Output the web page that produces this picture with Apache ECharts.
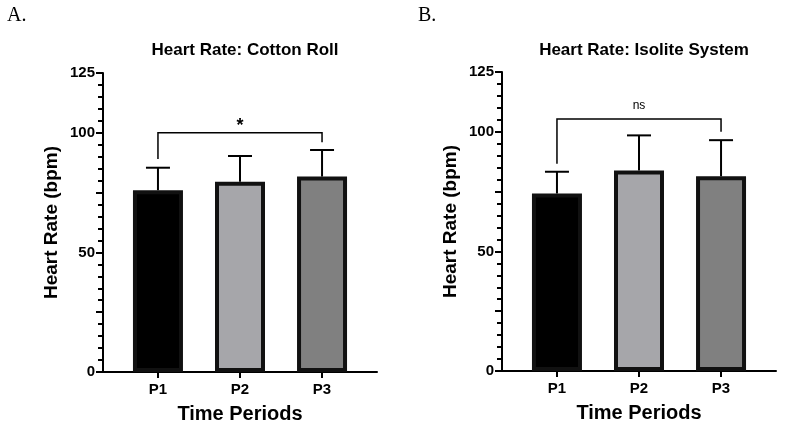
<!DOCTYPE html>
<html>
<head>
<meta charset="utf-8">
<script src="https://cdn.jsdelivr.net/npm/echarts@6/dist/echarts.min.js"></script>
<style>
  html, body { margin: 0; padding: 0; background: #fff; }
  #chart { width: 785px; height: 431px; }
</style>
</head>
<body>
<div id="chart"></div>
<script>
// 数据
const categories = ['P1', 'P2', 'P3']
const barColors = ['#000000', '#a6a6aa', '#808080']
const yTickLabels = [0, 50, 100, 125]

const titles = ['Heart Rate: Cotton Roll', 'Heart Rate: Isolite System']
const panelLetters = ['A.', 'B.']

const cottonMean = [76, 79.5, 81.7]
const cottonSD = [9.4, 10.8, 11.1]
const isoliteMean = [74.2, 83.8, 81.4]
const isoliteSD = [9.1, 14.7, 15.1]

// [from, to, bracket height, left leg end, right leg end]
const cottonBracket = [0, 2, 100, 89, 96]
const isoliteBracket = [0, 2, 105.3, 86.6, 100]
const bracketLabels = ['*', 'ns']

const font = 'Liberation Sans, Arial, sans-serif'

const chart = echarts.init(document.getElementById('chart'))

const makeXAxis = (idx) => ({
  type: 'value',
  gridIndex: idx,
  min: -0.67,
  max: 2.67,
  name: 'Time Periods',
  nameLocation: 'middle',
  nameGap: 32,
  nameTextStyle: { fontFamily: font, fontWeight: 'bold', fontSize: 20, color: '#000' },
  axisLine: { show: true, onZero: false, lineStyle: { color: '#000', width: 2 } },
  axisTick: { show: true, customValues: [0, 1, 2], length: 6, lineStyle: { color: '#000', width: 2 } },
  axisLabel: {
    customValues: [0, 1, 2],
    formatter: (v) => categories[Math.round(v)],
    margin: 10,
    fontFamily: font,
    fontWeight: 'bold',
    fontSize: 15,
    color: '#000'
  },
  splitLine: { show: false }
})

const makeYAxis = (idx) => ({
  type: 'value',
  gridIndex: idx,
  min: 0,
  max: 125,
  interval: 25,
  name: 'Heart Rate (bpm)',
  nameLocation: 'middle',
  nameGap: 42,
  nameTextStyle: { fontFamily: font, fontWeight: 'bold', fontSize: 19, color: '#000' },
  axisLine: { show: true, onZero: false, lineStyle: { color: '#000', width: 2 } },
  axisTick: { show: true, length: 7, lineStyle: { color: '#000', width: 2 } },
  minorTick: { show: true, splitNumber: 5, length: 5, lineStyle: { color: '#000', width: 2 } },
  axisLabel: {
    formatter: (v) => (yTickLabels.indexOf(v) >= 0 ? String(v) : ''),
    margin: 8,
    fontFamily: font,
    fontWeight: 'bold',
    fontSize: 15,
    color: '#000'
  },
  splitLine: { show: false }
})

const barSeries = (idx, means) => ({
  type: 'bar',
  xAxisIndex: idx,
  yAxisIndex: idx,
  barWidth: 50,
  silent: true,
  itemStyle: { borderColor: '#111', borderWidth: 4 },
  data: means.map((m, i) => ({ value: [i, m], itemStyle: { color: barColors[i] } })),
  z: 2
})

const errorSeries = (idx, means, sds) => ({
  type: 'custom',
  xAxisIndex: idx,
  yAxisIndex: idx,
  silent: true,
  data: means.map((m, i) => [i, m, m + sds[i]]),
  renderItem: (params, api) => {
    const x = api.value(0)
    const p0 = api.coord([x, api.value(1)])
    const p1 = api.coord([x, api.value(2)])
    const half = 12
    const style = { stroke: '#000', lineWidth: 2 }
    return {
      type: 'group',
      children: [
        { type: 'line', shape: { x1: p0[0], y1: p0[1], x2: p1[0], y2: p1[1] }, style },
        { type: 'line', shape: { x1: p1[0] - half, y1: p1[1], x2: p1[0] + half, y2: p1[1] }, style }
      ]
    }
  },
  z: 3
})

const bracketSeries = (idx, bracket) => ({
  type: 'custom',
  xAxisIndex: idx,
  yAxisIndex: idx,
  silent: true,
  data: [bracket],
  renderItem: (params, api) => {
    const from = api.value(0)
    const to = api.value(1)
    const y = api.value(2)
    const a = api.coord([from, api.value(3)])
    const b = api.coord([from, y])
    const c = api.coord([to, y])
    const d = api.coord([to, api.value(4)])
    const label = bracketLabels[idx]
    const isStar = label === '*'
    return {
      type: 'group',
      children: [
        {
          type: 'polyline',
          shape: { points: [a, b, c, d] },
          style: { stroke: '#000', lineWidth: 1.5, fill: null }
        },
        {
          type: 'text',
          x: (b[0] + c[0]) / 2,
          y: isStar ? b[1] + 2 : b[1] - 13,
          style: {
            text: label,
            align: 'center',
            verticalAlign: isStar ? 'bottom' : 'middle',
            fontFamily: font,
            fontWeight: isStar ? 'bold' : 'normal',
            fontSize: isStar ? 18 : 12,
            fill: '#000'
          }
        }
      ]
    }
  },
  z: 4
})

const option = {
  backgroundColor: '#fff',
  animation: false,
  title: [
    {
      text: titles[0], left: 240, top: 37, textAlign: 'center',
      textStyle: { fontFamily: font, fontWeight: 'bold', fontSize: 17, color: '#000' }
    },
    {
      text: titles[1], left: 639, top: 37, textAlign: 'center',
      textStyle: { fontFamily: font, fontWeight: 'bold', fontSize: 17, color: '#000' }
    }
  ],
  graphic: [
    { type: 'text', left: 7, top: 6, style: { text: panelLetters[0], font: '20px "Liberation Serif", "Times New Roman", serif', fill: '#000' } },
    { type: 'text', left: 418, top: 6, style: { text: panelLetters[1], font: '20px "Liberation Serif", "Times New Roman", serif', fill: '#000' } }
  ],
  grid: [
    { left: 103, top: 73, width: 274, height: 299 },
    { left: 502, top: 72, width: 274, height: 299 }
  ],
  xAxis: [makeXAxis(0), makeXAxis(1)],
  yAxis: [makeYAxis(0), makeYAxis(1)],
  series: [
    barSeries(0, cottonMean),
    errorSeries(0, cottonMean, cottonSD),
    bracketSeries(0, cottonBracket),
    barSeries(1, isoliteMean),
    errorSeries(1, isoliteMean, isoliteSD),
    bracketSeries(1, isoliteBracket)
  ]
}

chart.setOption(option)
</script>
</body>
</html>
